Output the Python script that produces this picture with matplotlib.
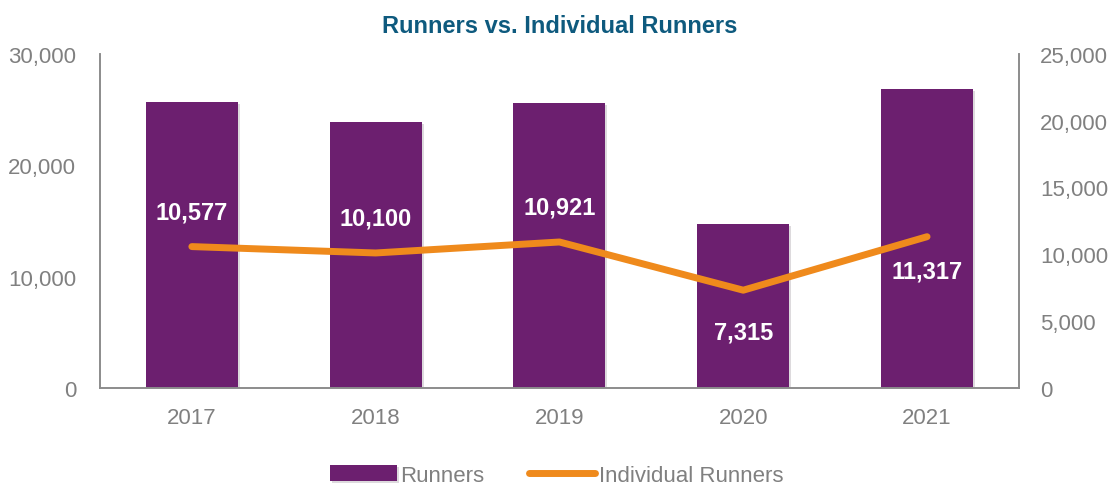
import matplotlib.pyplot as plt
from matplotlib.ticker import FuncFormatter
import matplotlib.patheffects as pe

years = ['2017', '2018', '2019', '2020', '2021']
runners = [25700, 23850, 25550, 14700, 26850]
individual = [10577, 10100, 10921, 7315, 11317]
label_offset = [25, 25, 25, -30, -25]

plt.rcParams['font.family'] = ['Liberation Sans', 'DejaVu Sans']

purple = '#6C1F6F'
orange = '#EF8A1C'
grey = '#808080'

fig = plt.figure(figsize=(11.13, 4.85), dpi=100)
ax = fig.add_axes([0.0898, 0.198, 0.8257, 0.689])
ax2 = ax.twinx()

x = list(range(len(years)))
ax.bar(x, runners, width=0.5, color=purple, label='Runners', zorder=2,
       path_effects=[pe.SimplePatchShadow(offset=(1.5, -1.5), alpha=0.15), pe.Normal()])
ax2.plot(x, individual, color=orange, lw=5, solid_capstyle='round', label='Individual Runners', zorder=3)

ax.set_xlim(-0.5, 4.5)
ax.set_ylim(0, 30000)
ax.set_yticks([0, 10000, 20000, 30000])
ax2.set_ylim(0, 25000)
ax2.set_yticks([0, 5000, 10000, 15000, 20000, 25000])
fmt = FuncFormatter(lambda v, p: f'{int(v):,}')
ax.yaxis.set_major_formatter(fmt)
ax2.yaxis.set_major_formatter(fmt)
ax.set_xticks(x)
ax.set_xticklabels(years)

for a in (ax, ax2):
    a.tick_params(length=0, labelsize=16, colors=grey)
    a.spines['top'].set_visible(False)
    for s in ('left', 'right', 'bottom'):
        a.spines[s].set_color('#8C8C8C')
        a.spines[s].set_linewidth(1.2)
ax.tick_params(axis='y', pad=17)
ax2.tick_params(axis='y', pad=15)
ax.tick_params(axis='x', pad=14)

for xi, v, off in zip(x, individual, label_offset):
    ax2.annotate(f'{v:,}', (xi, v), xytext=(0, off), textcoords='offset points',
                 ha='center', va='center', color='white', fontsize=17, fontweight='bold', zorder=4)

ax.set_title('Runners vs. Individual Runners', color='#0E5A7E', fontsize=17, fontweight='bold', pad=16)

h1, l1 = ax.get_legend_handles_labels()
h2, l2 = ax2.get_legend_handles_labels()
fig.legend(h1 + h2, l1 + l2, loc='lower center', bbox_to_anchor=(0.5, -0.045), ncol=2, frameon=False,
           fontsize=16, labelcolor=grey, handlelength=3.0, handletextpad=0.15, columnspacing=2.0)

fig.savefig('out.png', dpi=100)
